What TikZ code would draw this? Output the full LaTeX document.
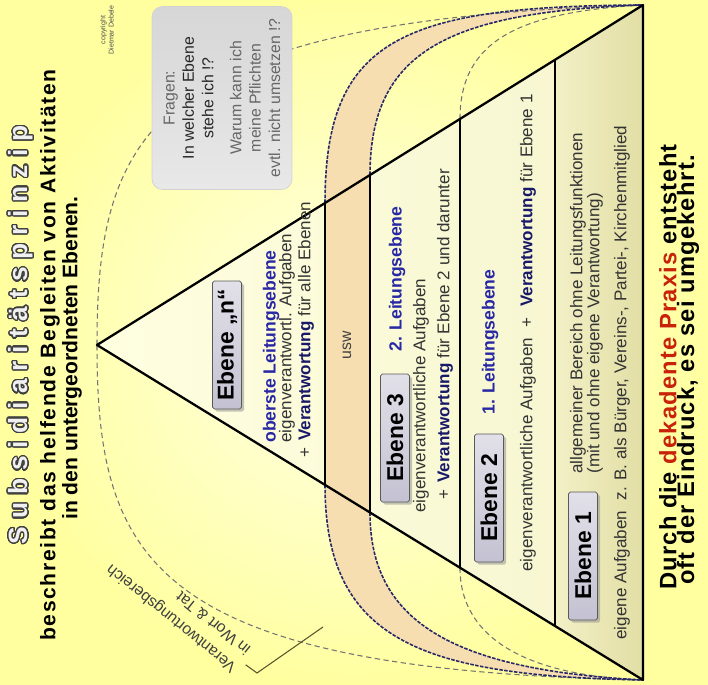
\documentclass[tikz,border=0pt]{standalone}
\usepackage{fontspec}
\setmainfont{Liberation Sans}
\usepackage[copies]{contour}
\usetikzlibrary{positioning,calc,shadows}
\definecolor{bgyellow}{RGB}{255,255,160}
\definecolor{bglight}{RGB}{255,255,232}
\definecolor{peach}{RGB}{246,222,176}
\definecolor{cream}{RGB}{255,255,225}
\definecolor{khaki}{RGB}{226,222,165}
\definecolor{navyline}{RGB}{40,40,105}
\definecolor{headblue}{RGB}{40,40,165}
\definecolor{verblue}{RGB}{25,25,105}
\definecolor{boxgray}{RGB}{196,194,210}
\definecolor{darkred}{RGB}{200,35,10}
\contourlength{0.7pt}
\contournumber{32}
\newcommand{\Verant}{\textbf{\textcolor{verblue}{Verantwortung}}}

\begin{document}
\begin{tikzpicture}[x=0.02cm, y=-0.02cm,
    ebene/.style={
        rectangle, rounded corners=1pt,
        draw=black!65, top color=boxgray!50, bottom color=boxgray,
        rotate=90, minimum width=2.56cm, minimum height=0.58cm,
        inner sep=0pt, font=\fontsize{13}{15}\selectfont\bfseries,
        drop shadow={shadow xshift=1.5pt, shadow yshift=-1.5pt, fill=black!45}
    },
    kopf/.style={rotate=90, anchor=west, inner sep=0pt, text=headblue,
        font=\fontsize{10}{12}\selectfont\bfseries},
    zeile/.style={rotate=90, anchor=west, inner sep=0pt, text=black!80,
        font=\fontsize{9.7}{11}\selectfont},
    fragen/.style={
        rectangle, rounded corners=6pt, rotate=90, align=center,
        top color=gray!32, bottom color=gray!18, draw=gray!35,
        minimum width=3.66cm, minimum height=2.8cm,
        text=black!60, font=\fontsize{9}{11}\selectfont
    },
    kurve/.style={navyline, line width=0.9pt, dash pattern=on 2pt off 0.8pt},
    bogen/.style={black!55, line width=0.6pt, dash pattern=on 3pt off 2pt},
    kante/.style={black, line width=1.3pt, line join=round}
]
\useasboundingbox (0,0) rectangle (708,685);
\shade[inner color=bglight, outer color=bgyellow] (0,0) rectangle (708,685);

% Pyramide
\coordinate (apex) at (97,345);
\coordinate (topc) at (643,5);
\coordinate (botc) at (643,680);
\foreach \t/\n in {0.4176/1, 0.5/2, 0.6648/3, 0.8388/4} {
    \coordinate (p\n t) at ($(apex)!\t!(topc)$);
    \coordinate (p\n b) at ($(apex)!\t!(botc)$);
}

\shade[left color=cream, right color=cream!70!khaki] (apex) -- (topc) -- (botc) -- cycle;
\shade[left color=khaki!45!cream, right color=khaki] (p4t) -- (topc) -- (botc) -- (p4b) -- cycle;

% usw-Band
\fill[peach] (p1t) .. controls (325,40) and (400,6) .. (topc)
    .. controls (450,12) and (370,50) .. (p2t) -- (p2b)
    .. controls (370,620) and (450,670) .. (botc)
    .. controls (420,676) and (325,640) .. (p1b) -- cycle;

\draw[bogen] (apex) .. controls (97,130) and (150,20) .. (topc);
\draw[bogen] (apex) .. controls (97,560) and (150,670) .. (botc);
\draw[bogen] (p3t) .. controls (460,40) and (520,12) .. (topc);
\draw[bogen] (p3b) .. controls (460,640) and (530,676) .. (botc);

\draw[kurve] (p1t) .. controls (325,40) and (400,6) .. (topc);
\draw[kurve] (p2t) .. controls (370,50) and (450,12) .. (topc);
\draw[kurve] (p1b) .. controls (325,640) and (420,676) .. (botc);
\draw[kurve] (p2b) .. controls (370,620) and (450,670) .. (botc);

\draw[kante] (apex) -- (topc) -- (botc) -- cycle;
\foreach \n in {1,2,3,4} \draw[kante] (p\n t) -- (p\n b);

% Titel
\node[rotate=90] (titel) at (21,335) {\contour{black!75}{\textcolor{gray!12}{\fontsize{15}{18}\selectfont\bfseries\addfontfeature{LetterSpace=30}Subsidiaritätsprinzip}}};
\node[rotate=90, font=\fontsize{12}{14}\selectfont\bfseries\addfontfeature{LetterSpace=8}] (unter1) at (50,355) {beschreibt das helfende Begleiten von Aktivitäten};
\node[rotate=90, font=\fontsize{12}{14}\selectfont\bfseries] (unter2) at (72,358) {in den untergeordneten Ebenen.};
\node[rotate=90, align=center, text=black!70, font=\fontsize{4}{4.6}\selectfont] (copy) at (107,30) {copyright\\Dietmar Debele};

\node[fragen] (fragen) at (222,98) {Fragen:\\ \textcolor{black!85}{In welcher Ebene}\\ \textcolor{black!85}{stehe ich !?}\\[5pt] Warum kann ich\\ meine Pflichten\\ evtl. nicht umsetzen !?};

% Ebene n
\node[ebene] (ebn) at (227,345) {Ebene „n“};
\node[kopf] (obenkopf) at (271,443) {oberste Leitungsebene};
\node[zeile] (obenauf) at (287,443) {eigenverantwortl. Aufgaben};
\node[zeile] (obenver) at (306,458) {+\hspace{4pt}\Verant{} für alle Ebenen};

\node[rotate=90, text=black!75, font=\fontsize{9}{11}\selectfont] (usw) at (347,345) {usw};

% Ebene 3
\node[ebene] (eb3) at (395,438) {Ebene 3};
\node[kopf] (zweikopf) at (397,352) {2. Leitungsebene};
\node[zeile] (zweiauf) at (421,513) {eigenverantwortliche Aufgaben};
\node[zeile] (zweiver) at (445,500) {+\hspace{4pt}\Verant{} für Ebene 2 und darunter};

% Ebene 2
\node[ebene] (eb2) at (489,498) {Ebene 2};
\node[kopf] (einskopf) at (490,415) {1. Leitungsebene};
\node[zeile] (einsauf) at (528,572) {eigenverantwortliche Aufgaben\hspace{6pt}+\hspace{6pt}\Verant{} für Ebene 1};

% Ebene 1
\node[ebene] (eb1) at (583,556) {Ebene 1};
\node[zeile] (allg1) at (578,474) {allgemeiner Bereich ohne Leitungsfunktionen};
\node[zeile] (allg2) at (595,474) {(mit und ohne eigene Verantwortung)};
\node[zeile] (eigen) at (622,640) {eigene Aufgaben\hspace{6pt}z. B. als Bürger, Vereins-, Partei-, Kirchenmitglied};

% Verantwortungsbereich
\node[rotate=141, align=left, text=black!75, font=\fontsize{9}{13}\selectfont] (bereich) at (178,610) {Verantwortungsbereich\\in Wort \& Tat};
\coordinate (knick) at (257,673);
\coordinate (bandrand) at (323,627);
\draw[olive!50!black, line width=0.6pt] (bereich.west) -- (knick) -- (bandrand);

% Fazit
\node[rotate=90, font=\fontsize{13.5}{16}\selectfont\bfseries\addfontfeature{LetterSpace=5}] (fazit1) at (668,367) {Durch die \textcolor{darkred}{dekadente} \textcolor{darkred}{Praxis} entsteht};
\node[rotate=90, font=\fontsize{13.5}{16}\selectfont\bfseries\addfontfeature{LetterSpace=5}] (fazit2) at (688,370) {oft der Eindruck, es sei umgekehrt.};

\end{tikzpicture}
\end{document}
